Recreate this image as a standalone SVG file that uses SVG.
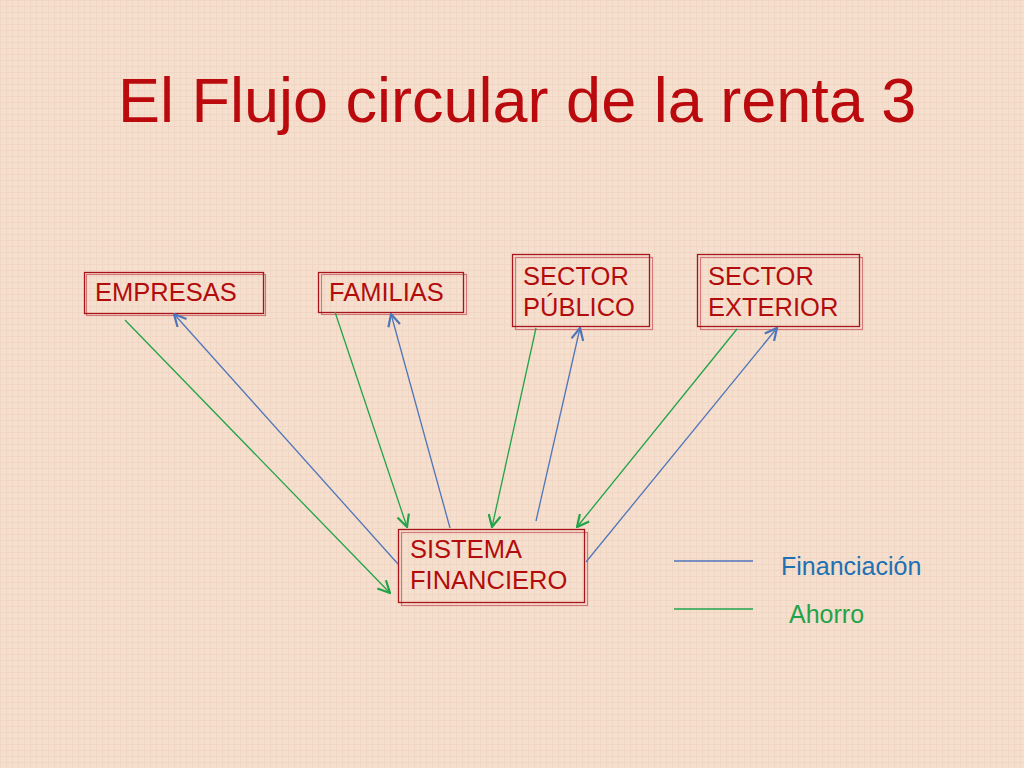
<svg xmlns="http://www.w3.org/2000/svg" width="1024" height="768" viewBox="0 0 1024 768">
<style>
.t{font-family:"Liberation Sans",Arial,sans-serif;font-size:25.5px;fill:#b30c0c}
.b1{fill:none;stroke:#a8141a;stroke-width:1.3}
.b2{fill:none;stroke:#d2777a;stroke-width:1.2}
.g{stroke:#22a34a;stroke-width:1.3;fill:none}
.bl{stroke:#4f75b8;stroke-width:1.3;fill:none}
.lg{font-family:"Liberation Sans",Arial,sans-serif;font-size:25px}
</style>
<defs>
<pattern id="tex" width="6" height="6" patternUnits="userSpaceOnUse">
<rect width="6" height="6" fill="#f5e0d0"/>
<path d="M0,0.5H6M0.5,0V6" stroke="#f0d6c3" stroke-width="1"/>
</pattern>
<marker id="ag" viewBox="0 0 14 14" refX="13" refY="7" markerWidth="14" markerHeight="14" markerUnits="userSpaceOnUse" orient="auto">
<path d="M1,1 L13,7 L1,13" fill="none" stroke="#22a34a" stroke-width="2.2"/>
</marker>
<marker id="ab" viewBox="0 0 14 14" refX="13" refY="7" markerWidth="14" markerHeight="14" markerUnits="userSpaceOnUse" orient="auto">
<path d="M1,1 L13,7 L1,13" fill="none" stroke="#4f75b8" stroke-width="2.2"/>
</marker>
</defs>
<rect width="1024" height="768" fill="url(#tex)"/>
<text x="118" y="122" font-family="Liberation Sans,Arial,sans-serif" font-size="63" fill="#bb0a0e">El Flujo circular de la renta 3</text>

<g id="empresas">
<rect class="b2" x="86.5" y="274.5" width="179" height="41"/>
<rect class="b1" x="84.5" y="272.5" width="179" height="41"/>
<text class="t" x="95" y="301">EMPRESAS</text>
</g>
<g id="familias">
<rect class="b2" x="321.5" y="274.5" width="145" height="40"/>
<rect class="b1" x="318.5" y="272.5" width="145" height="40"/>
<text class="t" x="329" y="301">FAMILIAS</text>
</g>
<g id="sector-publico">
<rect class="b2" x="515.5" y="257.5" width="137" height="72"/>
<rect class="b1" x="512.5" y="254.5" width="137" height="72"/>
<text class="t" x="523" y="285">SECTOR</text>
<text class="t" x="523" y="316">PÚBLICO</text>
</g>
<g id="sector-exterior">
<rect class="b2" x="700.5" y="257.5" width="162" height="72"/>
<rect class="b1" x="697.5" y="254.5" width="162" height="72"/>
<text class="t" x="708" y="285">SECTOR</text>
<text class="t" x="708" y="316">EXTERIOR</text>
</g>
<g id="sistema-financiero">
<rect class="b2" x="401.5" y="532.5" width="186" height="73"/>
<rect class="b1" x="398.5" y="529.5" width="186" height="73"/>
<text class="t" x="410" y="558">SISTEMA</text>
<text class="t" x="410" y="589">FINANCIERO</text>
</g>

<g id="connectors">
<line class="g" x1="125" y1="320" x2="390" y2="593" marker-end="url(#ag)"/>
<line class="bl" x1="398" y1="564" x2="174" y2="314" marker-end="url(#ab)"/>
<line class="g" x1="335" y1="312" x2="407" y2="527" marker-end="url(#ag)"/>
<line class="bl" x1="450" y1="528" x2="391" y2="314" marker-end="url(#ab)"/>
<line class="g" x1="536" y1="328" x2="492" y2="527" marker-end="url(#ag)"/>
<line class="bl" x1="536" y1="521" x2="580" y2="328" marker-end="url(#ab)"/>
<line class="g" x1="737" y1="329" x2="577" y2="527" marker-end="url(#ag)"/>
<line class="bl" x1="586" y1="562" x2="777" y2="328" marker-end="url(#ab)"/>
</g>

<g id="legend">
<line class="bl" x1="674" y1="561" x2="753" y2="561"/>
<line class="g" x1="674" y1="609" x2="753" y2="609"/>
<text class="lg" x="781" y="575" fill="#2070b4">Financiación</text>
<text class="lg" x="789" y="623" fill="#22a34a">Ahorro</text>
</g>
</svg>
